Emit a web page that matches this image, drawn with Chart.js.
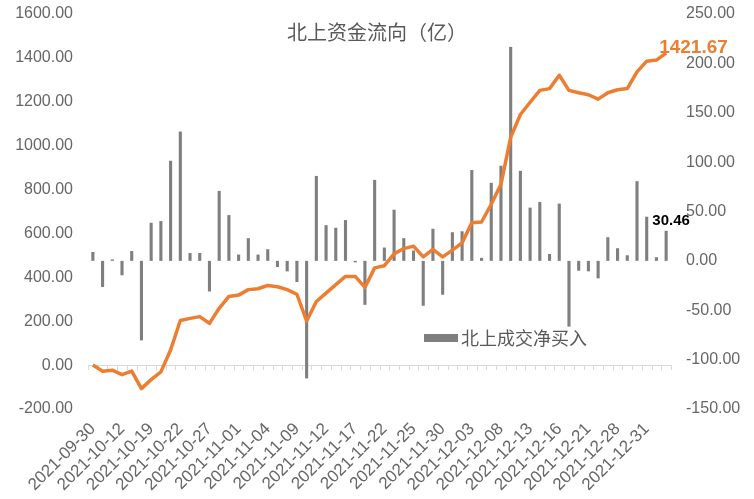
<!DOCTYPE html>
<html lang="zh">
<head>
<meta charset="UTF-8">
<title>北上资金流向</title>
<script src="https://cdn.jsdelivr.net/npm/chart.js@4/dist/chart.umd.min.js"></script>
<style>
    html, body { margin: 0; padding: 0; background: #fff; }
    #wrap { width: 754px; height: 499px; }
</style>
</head>
<body>
<div id="wrap"><canvas id="flow" width="754" height="499"></canvas></div>
<script>
const dates = ['2021-09-30','2021-10-08','2021-10-11','2021-10-12','2021-10-15','2021-10-18','2021-10-19','2021-10-20','2021-10-21','2021-10-22',
    '2021-10-25','2021-10-26','2021-10-27','2021-10-28','2021-10-29','2021-11-01','2021-11-02','2021-11-03','2021-11-04','2021-11-05',
    '2021-11-08','2021-11-09','2021-11-10','2021-11-11','2021-11-12','2021-11-15','2021-11-16','2021-11-17','2021-11-18','2021-11-19',
    '2021-11-22','2021-11-23','2021-11-24','2021-11-25','2021-11-26','2021-11-29','2021-11-30','2021-12-01','2021-12-02','2021-12-03',
    '2021-12-06','2021-12-07','2021-12-08','2021-12-09','2021-12-10','2021-12-13','2021-12-14','2021-12-15','2021-12-16','2021-12-17',
    '2021-12-20','2021-12-21','2021-12-22','2021-12-23','2021-12-28','2021-12-29','2021-12-30','2021-12-31','2022-01-04','2022-01-05'];

// 北上成交净买入 (右轴)
const netBuy = [9, -26.5, 1.5, -14.6, 10, -80.5, 38.6, 40.3, 101.4, 131,
    8, 8, -31, 70.8, 46.4, 6.4, 23, 6.4, 11.8, -6.2,
    -10.6, -21.4, -119, 86, 36.2, 33.5, 41.3, -1.5, -44.5, 82,
    13.5, 51.8, 23, 10.5, -45.5, 32.5, -34.3, 29, 30, 92,
    3, 79, 96.3, 216.7, 91.2, 53.9, 59.6, 7, 58, -66.6,
    -10, -10.6, -17.7, 24, 12.8, 5.7, 80.7, 44.7, 3.7, 30.46];

// 累计流入 (左轴)
const cumFlow = [0, -27.5, -23, -43, -27.5, -107, -66, -31, 69, 203,
    213, 221, 190, 259, 313, 319, 344, 348, 363, 357,
    344, 323, 201, 290, 328, 367, 404, 404, 354, 443,
    453, 507, 531, 542, 493, 527, 493, 524, 557, 649,
    652, 733, 824, 1038, 1142, 1198, 1252, 1260, 1321, 1252,
    1241, 1232, 1212, 1241, 1255, 1260, 1336, 1385, 1390, 1421.67];

const leftTicks = { min: -200, max: 1600, step: 200 };
const rightTicks = { min: -150, max: 250, step: 50 };

const GREY_TXT = '#666666';
const BAR_COLOR = '#7f7f7f';
const LINE_COLOR = '#ed7d31';
const NUM_FONT = 'Liberation Sans, Arial, sans-serif';
const CJK_FONT = '"Noto Sans CJK SC", sans-serif';

// title, zero axis line, legend and end labels
const extras = {
    id: 'extras',
    beforeDatasetsDraw(chart) {
        const ctx = chart.ctx, area = chart.chartArea;
        const y0 = chart.scales.y.getPixelForValue(0);
        ctx.save();
        ctx.strokeStyle = '#d9d9d9';
        ctx.lineWidth = 1;
        ctx.beginPath();
        ctx.moveTo(area.left, Math.round(y0) + 0.5);
        ctx.lineTo(area.right, Math.round(y0) + 0.5);
        for (let i = 0; i <= dates.length; i++) {
            const x = Math.round(area.left + (area.right - area.left) * i / dates.length) + 0.5;
            ctx.moveTo(x, y0);
            ctx.lineTo(x, y0 + 5);
        }
        ctx.stroke();
        ctx.restore();
    },
    afterDatasetsDraw(chart) {
        const ctx = chart.ctx;
        ctx.save();
        // title
        ctx.fillStyle = '#595959';
        ctx.font = '20px ' + CJK_FONT;
        ctx.textAlign = 'center';
        ctx.textBaseline = 'middle';
        ctx.fillText('北上资金流向（亿）', 377, 32);

        // legend
        ctx.fillStyle = BAR_COLOR;
        ctx.fillRect(424, 334, 34, 8);
        ctx.fillStyle = '#595959';
        ctx.font = '18px ' + CJK_FONT;
        ctx.textAlign = 'left';
        ctx.fillText('北上成交净买入', 461, 338);

        // last values
        const n = dates.length - 1;
        const lp = chart.getDatasetMeta(1).data[n];
        ctx.fillStyle = LINE_COLOR;
        ctx.font = 'bold 19px ' + NUM_FONT;
        ctx.textAlign = 'left';
        ctx.fillText(cumFlow[n].toFixed(2), lp.x - 7, lp.y - 5);

        const bp = chart.getDatasetMeta(0).data[n];
        ctx.fillStyle = '#000';
        ctx.font = 'bold 15px ' + NUM_FONT;
        ctx.textAlign = 'center';
        ctx.fillText(netBuy[n].toFixed(2), bp.x + 5, bp.y - 10);
        ctx.restore();
    }
};

function fixY(width) {
    return function (s) {
        s.width = width;
        s.paddingTop = 0;
        s.paddingBottom = 0;
    };
}

new Chart(document.getElementById('flow'), {
    type: 'bar',
    data: {
        labels: dates,
        datasets: [{
            type: 'bar',
            label: '北上成交净买入',
            data: netBuy,
            backgroundColor: BAR_COLOR,
            yAxisID: 'y1',
            barPercentage: 0.32,
            categoryPercentage: 1,
            order: 2
        }, {
            type: 'line',
            label: '累计',
            data: cumFlow,
            borderColor: LINE_COLOR,
            borderWidth: 3.5,
            pointRadius: 0,
            tension: 0,
            borderJoinStyle: 'round',
            yAxisID: 'y',
            order: 1
        }]
    },
    options: {
        responsive: false,
        animation: false,
        devicePixelRatio: 1,
        layout: { padding: { top: 14, left: 0, right: 0, bottom: 0 } },
        plugins: {
            legend: { display: false },
            title: { display: false },
            tooltip: { enabled: false }
        },
        scales: {
            x: {
                offset: true,
                grid: { display: false, drawTicks: false },
                border: { display: false },
                ticks: {
                    autoSkip: false,
                    minRotation: 45,
                    maxRotation: 45,
                    padding: 10,
                    color: GREY_TXT,
                    font: { family: NUM_FONT, size: 17 },
                    callback: function (v, i) { return i % 3 === 0 ? dates[i] : ''; }
                },
                afterFit: function (s) {
                    s.height = 90;
                    s.paddingLeft = 0;
                    s.paddingRight = 0;
                }
            },
            y: {
                position: 'left',
                min: leftTicks.min,
                max: leftTicks.max,
                grid: { display: false, drawTicks: false },
                border: { display: false },
                ticks: {
                    stepSize: leftTicks.step,
                    padding: 15,
                    color: GREY_TXT,
                    font: { family: NUM_FONT, size: 16 },
                    callback: v => v.toFixed(2)
                },
                afterFit: fixY(88)
            },
            y1: {
                position: 'right',
                min: rightTicks.min,
                max: rightTicks.max,
                grid: { display: false, drawTicks: false },
                border: { display: false },
                ticks: {
                    stepSize: rightTicks.step,
                    padding: 15,
                    color: GREY_TXT,
                    font: { family: NUM_FONT, size: 16 },
                    callback: v => v.toFixed(2)
                },
                afterFit: fixY(83)
            }
        }
    },
    plugins: [extras]
});
</script>
</body>
</html>
